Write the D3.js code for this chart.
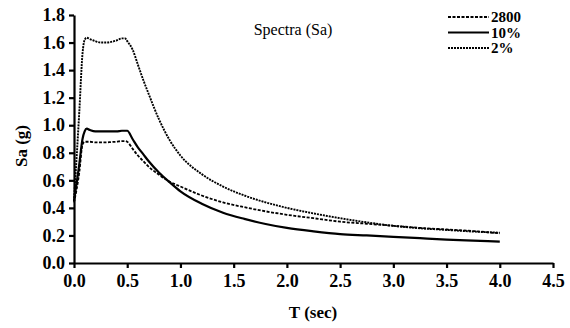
<!DOCTYPE html>
<html><head><meta charset="utf-8">
<script src="https://cdn.jsdelivr.net/npm/d3@7/dist/d3.min.js"></script>
<style>body{margin:0;background:#fff}svg{display:block}</style>
</head><body><svg id="c" width="570" height="328"></svg>
<script>
const periods = [0, 0.05, 0.08, 0.1, 0.12, 0.15, 0.2, 0.25, 0.3, 0.35, 0.4, 0.45, 0.48, 0.5, 0.55, 0.6, 0.65, 0.7, 0.8, 0.9, 1.0, 1.2, 1.4, 1.6, 1.8, 2.0, 2.25, 2.5, 2.75, 3.0, 3.25, 3.5, 3.75, 4.0];
const sa2800 = [0.44, 0.66, 0.86, 0.88, 0.88, 0.88, 0.875, 0.875, 0.875, 0.878, 0.88, 0.885, 0.885, 0.88, 0.83, 0.78, 0.74, 0.70, 0.64, 0.59, 0.555, 0.49, 0.44, 0.405, 0.375, 0.35, 0.325, 0.30, 0.285, 0.27, 0.255, 0.243, 0.232, 0.215];
const sa10 = [0.45, 0.72, 0.90, 0.955, 0.975, 0.965, 0.955, 0.955, 0.955, 0.955, 0.955, 0.96, 0.96, 0.96, 0.90, 0.84, 0.79, 0.74, 0.655, 0.585, 0.52, 0.43, 0.365, 0.32, 0.283, 0.255, 0.23, 0.21, 0.2, 0.19, 0.18, 0.17, 0.162, 0.155];
const sa2 = [0.45, 1.10, 1.52, 1.62, 1.635, 1.625, 1.61, 1.60, 1.60, 1.605, 1.615, 1.63, 1.63, 1.61, 1.55, 1.44, 1.33, 1.23, 1.04, 0.89, 0.78, 0.645, 0.555, 0.49, 0.44, 0.40, 0.36, 0.325, 0.295, 0.27, 0.252, 0.24, 0.228, 0.22];
const xTicks = [0, 0.5, 1.0, 1.5, 2.0, 2.5, 3.0, 3.5, 4.0, 4.5];
const yTicks = [0, 0.2, 0.4, 0.6, 0.8, 1.0, 1.2, 1.4, 1.6, 1.8];
const seriesNames = ["2800", "10%", "2%"];
const chartTitle = "Spectra (Sa)";
const xTitle = "T (sec)";
const yTitle = "Sa (g)";

const svg = d3.select("#c");
const x = d3.scaleLinear().domain([0, 4.5]).range([74, 553]);
const y = d3.scaleLinear().domain([0, 1.8]).range([263, 15]);
const font = '"Times New Roman", "Liberation Serif", Tinos, serif';

const xa = svg.append("g").attr("transform", "translate(0,263)")
  .call(d3.axisBottom(x).tickValues(xTicks).tickFormat(d3.format(".1f")).tickSize(5).tickSizeOuter(0));
const ya = svg.append("g").attr("transform", "translate(74,0)")
  .call(d3.axisLeft(y).tickValues(yTicks).tickFormat(d3.format(".1f")).tickSize(5).tickSizeOuter(0));
[xa, ya].forEach(g => {
  g.attr("font-family", null).attr("font-size", null);
  g.select(".domain").attr("stroke", "#000").attr("stroke-width", 2.2);
  g.selectAll(".tick line").attr("stroke", "#000").attr("stroke-width", 2.2);
  g.selectAll("text").style("font-family", font).style("font-weight", "bold").style("font-size", "18px").attr("fill", "#000");
});
xa.selectAll("text").attr("dy", "0.9em");
ya.selectAll("text").attr("dx", "-0.05em");

const series = [
  {name: seriesNames[0], vals: sa2800, dash: "3,1.5", w: 1.8},
  {name: seriesNames[1], vals: sa10, dash: null, w: 2.2},
  {name: seriesNames[2], vals: sa2, dash: "2,1", w: 1.9}
];
const line = d3.line().curve(d3.curveMonotoneX);
series.forEach(s => {
  svg.append("path")
    .attr("d", line(periods.map((t, i) => [x(t), y(s.vals[i])])))
    .attr("fill", "none").attr("stroke", "#000").attr("stroke-width", s.w)
    .attr("stroke-dasharray", s.dash);
});

svg.append("text").attr("x", 293).attr("y", 35).attr("text-anchor", "middle")
  .style("font-family", font).style("font-size", "16px").attr("fill", "#000").text(chartTitle);

series.forEach((s, i) => {
  const yy = 17 + i * 15.5;
  svg.append("line").attr("x1", 448).attr("x2", 489).attr("y1", yy).attr("y2", yy)
    .attr("stroke", "#000").attr("stroke-width", s.w).attr("stroke-dasharray", s.dash);
  svg.append("text").attr("x", 491).attr("y", yy + 5)
    .style("font-family", font).style("font-size", "15px").style("font-weight", "bold").attr("fill", "#000").text(s.name);
});

svg.append("text").attr("x", 313).attr("y", 318).attr("text-anchor", "middle")
  .style("font-family", font).style("font-size", "17px").style("font-weight", "bold").attr("fill", "#000").text(xTitle);
svg.append("text").attr("transform", "translate(27,146) rotate(-90)").attr("text-anchor", "middle")
  .style("font-family", font).style("font-size", "17px").style("font-weight", "bold").attr("fill", "#000").text(yTitle);
</script></body></html>
